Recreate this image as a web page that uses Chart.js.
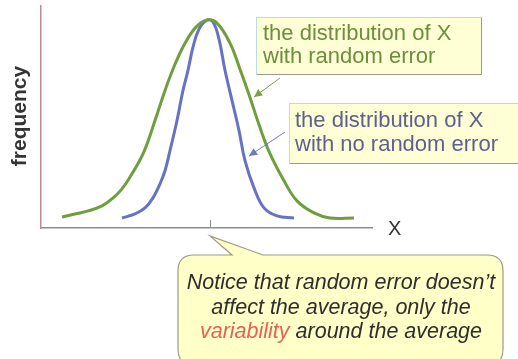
<!DOCTYPE html>
<html>
<head>
<meta charset="utf-8">
<script src="https://cdn.jsdelivr.net/npm/chart.js@4/dist/chart.umd.min.js"></script>
<style>
html,body{margin:0;padding:0;background:#ffffff;}
#wrap{position:relative;width:518px;height:359px;}
canvas{display:block;}
</style>
</head>
<body>
<div id="wrap"><canvas id="c" width="518" height="359"></canvas></div>
<script>
// X positions (arbitrary units along X axis) and frequencies
const greenX = [21, 34, 47, 61, 71, 81, 91, 103, 114, 124, 134, 144, 155, 166, 176, 189, 199, 209, 219, 229, 243, 256, 273, 289, 313];
const greenY = [11, 14, 17, 22, 29, 39, 54, 76, 107, 137, 163, 184, 200, 207, 204, 184, 158, 130, 100, 74, 47, 27, 15, 10, 10];
const blueX  = [81, 94, 104, 112, 119, 124, 129, 136, 142, 147, 152, 158, 166, 172, 178, 184, 191, 198, 204, 213, 223, 236, 253];
const blueY  = [10, 14, 20, 30, 44, 57, 77, 107, 137, 157, 180, 198, 207, 205, 188, 157, 127, 97, 67, 40, 20, 12, 10];
const meanTick = [169];
const seriesNames = ['the distribution of X with random error', 'the distribution of X with no random error'];
const xTitle = 'X';
const yTitle = 'frequency';

function pts(xs, ys){ return xs.map((x,i)=>({x:x, y:ys[i]})); }

const annot = {
  id:'annot',
  afterDraw(chart){
    const ctx = chart.ctx;
    const xs = chart.scales.x, ys = chart.scales.y;
    ctx.save();
    // mean tick
    meanTick.forEach(v=>{
      const px = Math.round(xs.getPixelForValue(v))+0.5;
      ctx.strokeStyle='#8a8a98'; ctx.lineWidth=1;
      ctx.beginPath(); ctx.moveTo(px, ys.bottom-8); ctx.lineTo(px, ys.bottom); ctx.stroke();
    });
    // axis titles
    ctx.fillStyle='#333333';
    ctx.font='20px "Liberation Sans", Arial, sans-serif';
    ctx.textAlign='left'; ctx.textBaseline='middle';
    ctx.fillText(xTitle, 388, 229);
    ctx.save();
    ctx.translate(20, 116); ctx.rotate(-Math.PI/2);
    ctx.textAlign='center';
    ctx.font='bold 21px "Liberation Sans", Arial, sans-serif';
    ctx.fillText(yTitle, 0, 0);
    ctx.restore();

    function box(x,y,w,h){
      ctx.fillStyle='#ffffd6';
      ctx.fillRect(x,y,w,h);
      ctx.strokeStyle='#b8dcd8'; ctx.lineWidth=1;
      ctx.strokeRect(x+0.5,y+0.5,w,h);
      ctx.strokeStyle='#9a9a88';
      ctx.beginPath(); ctx.moveTo(x+1,y+h+0.5); ctx.lineTo(x+w+0.5,y+h+0.5); ctx.lineTo(x+w+0.5,y+1); ctx.stroke();
    }
    function arrow(x1,y1,x2,y2,col){
      ctx.strokeStyle=col; ctx.fillStyle=col; ctx.lineWidth=1;
      ctx.beginPath(); ctx.moveTo(x1,y1); ctx.lineTo(x2,y2); ctx.stroke();
      const a=Math.atan2(y2-y1,x2-x1), L=9, W=0.45;
      ctx.beginPath(); ctx.moveTo(x2,y2);
      ctx.lineTo(x2-L*Math.cos(a-W), y2-L*Math.sin(a-W));
      ctx.lineTo(x2-L*Math.cos(a+W), y2-L*Math.sin(a+W));
      ctx.closePath(); ctx.fill();
    }
    box(256,17,225,57);
    ctx.font='22px "Liberation Sans", Arial, sans-serif';
    ctx.textAlign='left'; ctx.textBaseline='middle';
    ctx.fillStyle='#6b8f3e';
    const l1 = seriesNames[0].split(' with ');
    ctx.fillText(l1[0], 263, 34);
    ctx.fillText('with '+l1[1], 263, 57);
    arrow(280,78,254,97,'#7aa048');

    box(289,103,232,60);
    ctx.fillStyle='#5e6090';
    const l2 = seriesNames[1].split(' with ');
    ctx.fillText(l2[0], 295, 121);
    ctx.fillText('with '+l2[1], 295, 145);
    arrow(285,132,249,156,'#7078c0');

    // callout
    const bx=178, by=255, bw=325, bh=110, r=16;
    ctx.beginPath();
    ctx.moveTo(bx+r, by);
    ctx.lineTo(232, by);
    ctx.lineTo(210, 236);
    ctx.lineTo(263, by);
    ctx.lineTo(bx+bw-r, by);
    ctx.quadraticCurveTo(bx+bw, by, bx+bw, by+r);
    ctx.lineTo(bx+bw, by+bh-r);
    ctx.quadraticCurveTo(bx+bw, by+bh, bx+bw-r, by+bh);
    ctx.lineTo(bx+r, by+bh);
    ctx.quadraticCurveTo(bx, by+bh, bx, by+bh-r);
    ctx.lineTo(bx, by+r);
    ctx.quadraticCurveTo(bx, by, bx+r, by);
    ctx.closePath();
    ctx.fillStyle='#ffffc8'; ctx.fill();
    ctx.strokeStyle='#9c9a86'; ctx.lineWidth=1.2; ctx.stroke();

    ctx.font='italic 21.5px "Liberation Sans", Arial, sans-serif';
    ctx.textAlign='center';
    ctx.fillStyle='#2e2e2e';
    ctx.fillText("Notice that random error doesn\u2019t", 341, 283);
    ctx.fillText('affect the average, only the', 341, 308);
    const w1 = ctx.measureText('variability').width;
    const w2 = ctx.measureText(' around the average').width;
    const sx = 341 - (w1+w2)/2;
    ctx.textAlign='left';
    ctx.fillStyle='#e8605a';
    ctx.fillText('variability', sx, 332);
    ctx.fillStyle='#2e2e2e';
    ctx.fillText(' around the average', sx+w1, 332);
    ctx.restore();
  }
};

new Chart(document.getElementById('c'), {
  type:'scatter',
  data:{ datasets:[
    { label: seriesNames[0], data: pts(greenX, greenY), showLine:true, borderColor:'#6e9e3e', borderWidth:3, pointRadius:0, tension:0.4, fill:false },
    { label: seriesNames[1], data: pts(blueX, blueY), showLine:true, borderColor:'#6672c4', borderWidth:3, pointRadius:0, tension:0.4, fill:false }
  ]},
  options:{
    responsive:false, animation:false,
    layout:{ padding:{ left:41, top:6, right:146, bottom:131 } },
    plugins:{ legend:{display:false}, tooltip:{enabled:false} },
    scales:{
      x:{ type:'linear', min:0, max:331, ticks:{display:false}, grid:{display:false, drawTicks:false},
          border:{display:true, color:'#8a8c9c', width:1.5} },
      y:{ type:'linear', min:0, max:221, ticks:{display:false}, grid:{display:false, drawTicks:false},
          border:{display:true, color:'#c08a90', width:1.5} }
    }
  },
  plugins:[annot]
});
</script>
</body>
</html>
